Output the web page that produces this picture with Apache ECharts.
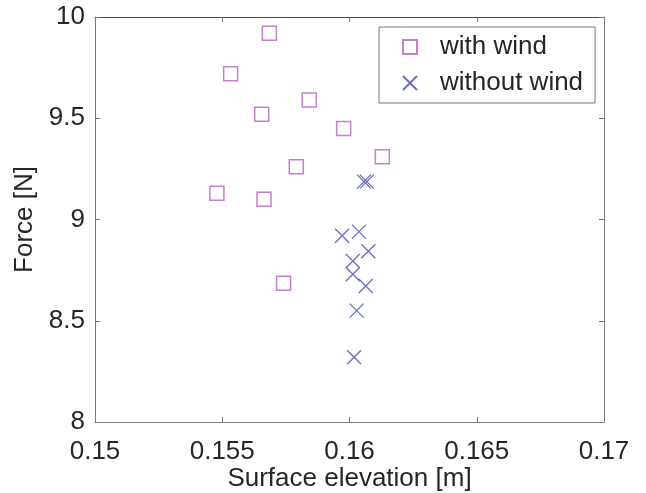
<!DOCTYPE html>
<html>
<head>
<meta charset="utf-8">
<script src="https://cdn.jsdelivr.net/npm/echarts@6/dist/echarts.min.js"></script>
<style>
  html, body { margin: 0; padding: 0; background: #fff; }
  #chart { width: 646px; height: 493px; }
</style>
</head>
<body>
<div id="chart"></div>
<script>
// values
const withWindX = [0.15685, 0.15533, 0.15842, 0.15655, 0.15977, 0.16129, 0.15791, 0.15479, 0.15664, 0.15741];
const withWindY = [9.92, 9.72, 9.59, 9.52, 9.45, 9.31, 9.26, 9.13, 9.10, 8.685];
const withoutWindX = [0.16057, 0.16068, 0.15971, 0.16037, 0.16074, 0.16013, 0.16013, 0.16064, 0.16028, 0.16018];
const withoutWindY = [9.187, 9.187, 8.92, 8.94, 8.843, 8.795, 8.73, 8.672, 8.55, 8.32];

const xTicks = [0.15, 0.155, 0.16, 0.165, 0.17];
const yTicks = [8, 8.5, 9, 9.5, 10];

const seriesNames = ['with wind', 'without wind'];
const axisTitles = { x: 'Surface elevation [m]', y: 'Force [N]' };

const font = 'Liberation Sans, Arial, sans-serif';
const txt = '#262626';
const lineColor = '#7a7a7a';

const pairs = (xs, ys) => xs.map((x, i) => [x, ys[i]]);

const chart = echarts.init(document.getElementById('chart'));

const baseX = {
  type: 'value',
  min: xTicks[0],
  max: xTicks[xTicks.length - 1],
  interval: 0.005,
  splitLine: { show: false },
  axisLine: { lineStyle: { color: lineColor, width: 1 } },
  axisTick: { inside: true, length: 5, lineStyle: { color: lineColor } }
};
const baseY = {
  type: 'value',
  min: yTicks[0],
  max: yTicks[yTicks.length - 1],
  interval: 0.5,
  splitLine: { show: false },
  axisLine: { lineStyle: { color: lineColor, width: 1 } },
  axisTick: { inside: true, length: 5, lineStyle: { color: lineColor } }
};

const option = {
  animation: false,
  backgroundColor: '#fff',
  grid: { left: 95, right: 42, top: 17, bottom: 71, outerBoundsMode: 'none', containLabel: false },
  legend: {
    orient: 'vertical',
    left: 379,
    top: 27,
    padding: [7, 12, 7, 23],
    itemWidth: 14,
    itemHeight: 14,
    itemGap: 10,
    backgroundColor: '#fff',
    borderColor: '#777',
    borderWidth: 1,
    borderRadius: 0,
    textStyle: { fontFamily: font, fontSize: 26, color: txt, padding: [0, 0, 0, 18] },
    data: seriesNames
  },
  xAxis: [
    Object.assign({}, baseX, {
      position: 'bottom',
      name: axisTitles.x,
      nameLocation: 'middle',
      nameGap: 44,
      nameMoveOverlap: false,
      nameTextStyle: { fontFamily: font, fontSize: 26, color: txt },
      axisLabel: {
        margin: 17,
        fontFamily: font,
        fontSize: 26,
        color: txt,
        formatter: v => String(+v.toFixed(3))
      }
    }),
    Object.assign({}, baseX, {
      position: 'top',
      axisLabel: { show: false },
      axisLine: { lineStyle: { color: '#4a4a4a', width: 1 } }
    })
  ],
  yAxis: [
    Object.assign({}, baseY, {
      position: 'left',
      name: axisTitles.y,
      nameLocation: 'middle',
      nameGap: 57,
      nameMoveOverlap: false,
      nameTextStyle: { fontFamily: font, fontSize: 26, color: txt },
      axisLabel: {
        margin: 10,
        fontFamily: font,
        fontSize: 26,
        color: txt,
        formatter: v => String(+v.toFixed(1))
      }
    }),
    Object.assign({}, baseY, {
      position: 'right',
      axisLabel: { show: false }
    })
  ],
  series: [
    {
      name: seriesNames[0],
      type: 'scatter',
      xAxisIndex: 0,
      yAxisIndex: 0,
      symbol: 'rect',
      symbolSize: 14,
      itemStyle: { color: 'rgba(0,0,0,0)', borderColor: '#c57fcf', borderWidth: 1.5, opacity: 1 },
      data: pairs(withWindX, withWindY)
    },
    {
      name: seriesNames[1],
      type: 'scatter',
      xAxisIndex: 0,
      yAxisIndex: 0,
      symbol: 'path://M0,0L10,10M10,0L0,10',
      symbolSize: 14,
      itemStyle: { color: 'rgba(0,0,0,0)', borderColor: '#6d6dc2', borderWidth: 1.3, opacity: 1 },
      data: pairs(withoutWindX, withoutWindY)
    }
  ]
};

chart.setOption(option);
</script>
</body>
</html>
